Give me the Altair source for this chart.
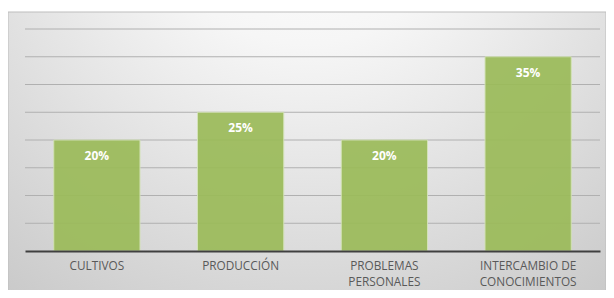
import altair as alt
import pandas as pd

categories = ["CULTIVOS", "PRODUCCIÓN", "PROBLEMAS|PERSONALES", "INTERCAMBIO DE|CONOCIMIENTOS"]
values = [0.20, 0.25, 0.20, 0.35]
value_labels = ["20%", "25%", "20%", "35%"]
y_ticks = [0.05, 0.10, 0.15, 0.20, 0.25, 0.30, 0.35, 0.40]

df = pd.DataFrame({"cat": categories, "val": values, "lab": value_labels})
grid_df = pd.DataFrame({"t": y_ticks})

W, H = 575, 222

bg = alt.Chart(alt.Data(values=[{}])).mark_rect(
    fill={
        "gradient": "radial",
        "x1": 0.5, "y1": 0.05, "r1": 0,
        "x2": 0.5, "y2": 0.05, "r2": 0.9,
        "stops": [
            {"offset": 0, "color": "#ffffff"},
            {"offset": 0.3, "color": "#f6f6f6"},
            {"offset": 0.65, "color": "#dedede"},
            {"offset": 1, "color": "#c6c6c6"},
        ],
    },
    stroke="#bdbdbd",
    strokeWidth=1,
).encode(
    x=alt.value(-17), x2=alt.value(W + 6),
    y=alt.value(-17), y2=alt.value(H + 40),
)

yscale = alt.Scale(domain=[0, 0.4], nice=False)

grid = alt.Chart(grid_df).mark_rule(color="#b0b0b0", strokeWidth=1).encode(
    y=alt.Y("t:Q", scale=yscale, axis=None)
)

xenc = alt.X(
    "cat:N", sort=categories, title=None,
    scale=alt.Scale(paddingInner=0.4, paddingOuter=0.2),
    axis=alt.Axis(
        labelExpr="split(datum.label, '|')",
        labelAngle=0, ticks=False, domain=True, domainColor="#404040",
        domainWidth=2, labelColor="#595959", labelFont="Open Sans",
        labelFontSize=11.8, labelPadding=9, labelLineHeight=16,
        labelBaseline="top", grid=False, zindex=1,
    ),
)
yenc = alt.Y("val:Q", title=None, scale=yscale, axis=None)

bars = alt.Chart(df).mark_bar(
    color="#9BBB59", opacity=0.92, stroke="#d2e2b4", strokeWidth=1
).encode(x=xenc, y=yenc)

text = alt.Chart(df).mark_text(
    color="white", font="Open Sans", fontWeight="bold", fontSize=12,
    baseline="alphabetic", dy=20,
).encode(x=alt.X("cat:N", sort=categories), y=alt.Y("val:Q"), text="lab:N")

chart = alt.layer(bg, grid, bars, text).properties(
    width=W, height=H,
    autosize=alt.AutoSizeParams(type="none"),
    padding={"left": 17, "top": 21, "right": 6, "bottom": 39},
).configure_view(stroke=None)

chart.save("out.html", embed_options={"renderer": "svg", "actions": False})
